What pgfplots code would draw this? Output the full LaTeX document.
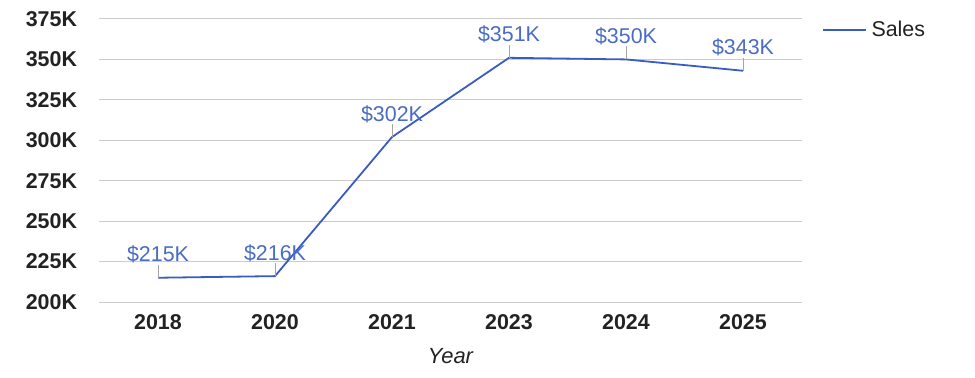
\documentclass[border=0pt]{standalone}
\usepackage{fontspec}
\setmainfont{Liberation Sans}
\usepackage{pgfplots}
\pgfplotsset{compat=1.18}
\definecolor{salesline}{HTML}{3A5CC0}
\definecolor{lab}{HTML}{4A6CC4}
\definecolor{gridc}{HTML}{CCCCCC}
\definecolor{txt}{HTML}{222222}
\begin{document}
\begin{tikzpicture}
\useasboundingbox (-99.5bp,-76bp) rectangle (875.5bp,302bp);
\begin{axis}[at={(0,0)}, anchor=south west, scale only axis, width=702bp, height=283bp,
 xmin=-0.5, xmax=5.5, ymin=200, ymax=375,
 xtick={0,...,5}, xticklabels={2018,2020,2021,2023,2024,2025},
 ytick={200,225,...,375}, yticklabel={\pgfmathprintnumber{\tick}K},
 /pgf/number format/assume math mode=true,
 axis line style={draw=none}, major tick length=0pt,
 ymajorgrids, grid style={gridc, line width=1bp},
 ticklabel style={font=\fontsize{21.5}{24}\selectfont\bfseries, text=txt},
 yticklabel style={xshift=-19bp},
 xticklabel style={yshift=-9bp},
 xlabel={Year}, xlabel style={font=\fontsize{22}{26}\selectfont\itshape, text=txt, yshift=-12bp},
 clip=false,
 legend style={draw=none, fill=none, at={(rel axis cs:1,1)}, anchor=north west, xshift=20bp, font=\fontsize{21.5}{24}\selectfont, text=txt, inner sep=0pt,
   nodes={inner xsep=5bp}},
 legend image code/.code={\draw[#1] (0bp,0bp) -- (43bp,0bp);},
]
\addplot[salesline, line width=1.8bp, mark=none,
  nodes near coords={\$\pgfmathprintnumber{\pgfplotspointmeta}K},
  every node near coord/.append style={anchor=base, yshift=16bp, font=\fontsize{21.5}{24}\selectfont, text=lab},
  error bars/.cd, y dir=plus, y fixed=8, error mark=none, error bar style={gray!70, line width=0.7bp}]
 coordinates {(0,215) (1,216) (2,302) (3,351) (4,350) (5,343)};
\addlegendentry{Sales}
\end{axis}
\end{tikzpicture}
\end{document}
